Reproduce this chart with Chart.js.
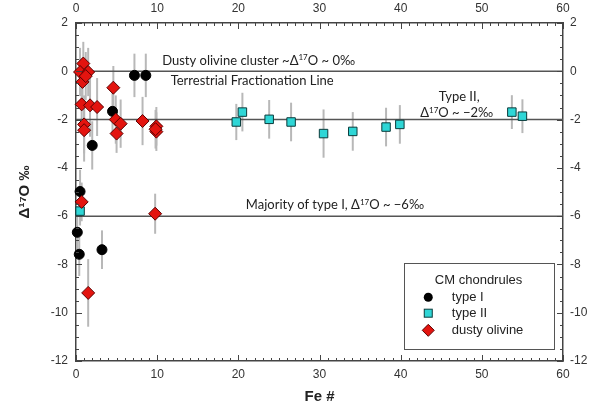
<!DOCTYPE html>
<html>
<head>
<meta charset="utf-8">
<script src="https://cdn.jsdelivr.net/npm/chart.js@4.4.1/dist/chart.umd.min.js"></script>
<style>
  html, body { margin: 0; padding: 0; background: #fff; }
</style>
</head>
<body>
<canvas id="chart" width="596" height="413"></canvas>
<script>
// values: Fe#, Δ17O (‰) and error half-width
const typeIFe = [7.2, 8.6, 4.5, 2.0, 0.5, 0.16, 0.4, 3.2];
const typeID17O = [-0.17, -0.17, -1.66, -3.07, -4.98, -6.67, -7.58, -7.39];
const typeIErr = [0.9, 0.9, 1.0, 1.0, 0.9, 0.9, 0.9, 0.8];

const typeIIFe = [19.75, 20.5, 23.8, 26.5, 30.5, 34.1, 38.2, 39.9, 53.7, 55.0, 0.5];
const typeIID17O = [-2.1, -1.69, -1.99, -2.1, -2.58, -2.49, -2.31, -2.2, -1.69, -1.86, -5.79];
const typeIIErr = [0.75, 0.8, 0.8, 0.8, 1.0, 0.8, 0.8, 0.8, 0.7, 0.7, 0.6];

const dustyFe = [0.9, 0.5, 1.5, 0.8, 1.2, 4.6, 0.7, 1.73, 2.6, 1.0, 1.0, 4.9, 5.5, 5.0, 8.2, 9.9, 9.9, 9.8, 0.7, 9.75, 1.5];
const dustyD17O = [0.32, -0.03, -0.03, -0.44, -0.2, -0.68, -1.37, -1.41, -1.48, -2.2, -2.44, -2.0, -2.17, -2.58, -2.06, -2.28, -2.5, -2.4, -5.41, -5.9, -9.18];
const dustyErr = [0.9, 1.0, 1.0, 1.0, 1.0, 0.9, 1.2, 1.3, 1.2, 1.2, 1.3, 1.0, 1.0, 0.8, 1.0, 0.8, 0.8, 0.8, 0.8, 0.83, 1.4];

const refLines = [0, -2, -6];
const xTicks = [0, 10, 20, 30, 40, 50, 60];
const yTicks = [2, 0, -2, -4, -6, -8, -10, -12];

const legendLabels = ["type I", "type II", "dusty olivine"];

const toPoints = (xs, ys) => xs.map((v, i) => ({ x: v, y: ys[i] }));

const TEXT_FONT = "Lato";
const AXIS_FONT = "'Liberation Sans', Arial, sans-serif";

// draws a line of text with "sup" parts raised and smaller, centred on cx
function richText(ctx, parts, cx, cy, size, align) {
  const supSize = size * 0.62;
  let w = 0;
  parts.forEach(p => {
    ctx.font = (p.sup ? supSize : size) + "px " + TEXT_FONT;
    p.w = ctx.measureText(p.t).width;
    w += p.w;
  });
  let x = align === "left" ? cx : cx - w / 2;
  ctx.textAlign = "left";
  ctx.textBaseline = "alphabetic";
  parts.forEach(p => {
    ctx.font = (p.sup ? supSize : size) + "px " + TEXT_FONT;
    ctx.fillText(p.t, x, cy + size * 0.36 - (p.sup ? size * 0.38 : 0));
    x += p.w;
  });
}

const errorBars = {
  id: "errorBars",
  beforeDatasetsDraw(chart) {
    const { ctx, scales: { x, y } } = chart;
    ctx.save();
    ctx.strokeStyle = "#b8b8b8";
    ctx.lineWidth = 2;
    [[typeIFe, typeID17O, typeIErr], [typeIIFe, typeIID17O, typeIIErr], [dustyFe, dustyD17O, dustyErr]]
      .forEach(([xs, ys, es]) => {
        xs.forEach((v, i) => {
          const px = x.getPixelForValue(v);
          ctx.beginPath();
          ctx.moveTo(px, y.getPixelForValue(ys[i] + es[i]));
          ctx.lineTo(px, y.getPixelForValue(ys[i] - es[i]));
          ctx.stroke();
        });
      });
    ctx.restore();
  }
};

const frameTicks = {
  id: "frameTicks",
  afterDatasetsDraw(chart) {
    const { ctx, chartArea: a, scales: { x, y } } = chart;
    ctx.save();
    ctx.strokeStyle = "#444";
    ctx.lineWidth = 1;
    const seg = (x1, y1, x2, y2) => {
      ctx.beginPath(); ctx.moveTo(x1, y1); ctx.lineTo(x2, y2); ctx.stroke();
    };
    for (let v = 0; v <= 60; v += 1) {
      const len = v % 10 === 0 ? 6 : 3;
      const px = Math.round(x.getPixelForValue(v)) + 0.5;
      seg(px, a.bottom, px, a.bottom - len);
      seg(px, a.top, px, a.top + len);
    }
    for (let v = -12; v <= 2; v += 0.5) {
      const len = v % 2 === 0 ? 6 : 3;
      const py = Math.round(y.getPixelForValue(v)) + 0.5;
      seg(a.left, py, a.left + len, py);
      seg(a.right, py, a.right - len, py);
    }
    ctx.restore();
  }
};

const notes = {
  id: "notes",
  afterDatasetsDraw(chart) {
    const { ctx, scales: { x, y } } = chart;
    ctx.save();
    ctx.fillStyle = "#222";
    const at = (fx, fy) => [x.getPixelForValue(fx), y.getPixelForValue(fy)];
    let p;
    p = at(22.5, 0.47);
    richText(ctx, [{ t: "Dusty olivine cluster ~\u0394" }, { t: "17", sup: true }, { t: "O ~ 0\u2030" }], p[0], p[1], 13);
    p = at(21.7, -0.38);
    richText(ctx, [{ t: "Terrestrial Fractionation Line" }], p[0], p[1], 13);
    p = at(47.2, -1.05);
    richText(ctx, [{ t: "Type II," }], p[0], p[1], 13);
    p = at(46.9, -1.72);
    richText(ctx, [{ t: "\u0394" }, { t: "17", sup: true }, { t: "O ~ \u22122\u2030" }], p[0], p[1], 13);
    p = at(31.9, -5.53);
    richText(ctx, [{ t: "Majority of type I, \u0394" }, { t: "17", sup: true }, { t: "O ~ \u22126\u2030" }], p[0], p[1], 13);
    ctx.restore();
  }
};

const boxLegend = {
  id: "boxLegend",
  afterDraw(chart) {
    const { ctx, scales: { x, y } } = chart;
    ctx.save();
    const l = x.getPixelForValue(40.4), r = x.getPixelForValue(58.9);
    const t = y.getPixelForValue(-7.95), b = y.getPixelForValue(-11.52);
    ctx.fillStyle = "#fff";
    ctx.fillRect(l, t, r - l, b - t);
    ctx.strokeStyle = "#555";
    ctx.lineWidth = 1;
    ctx.strokeRect(Math.round(l) + 0.5, Math.round(t) + 0.5, Math.round(r - l), Math.round(b - t));

    ctx.fillStyle = "#222";
    ctx.font = "13px " + AXIS_FONT;
    ctx.textAlign = "center";
    ctx.textBaseline = "middle";
    ctx.fillText("CM chondrules", x.getPixelForValue(49.6), y.getPixelForValue(-8.66));

    const mx = x.getPixelForValue(43.4), tx = x.getPixelForValue(46.3);
    const rows = [-9.36, -10.02, -10.73].map(v => y.getPixelForValue(v));
    ctx.lineWidth = 1;
    // type I circle
    ctx.beginPath(); ctx.arc(mx, rows[0], 4.5, 0, Math.PI * 2);
    ctx.fillStyle = "#000"; ctx.fill();
    // type II square
    ctx.fillStyle = "#2fd6d6"; ctx.strokeStyle = "#0b3b3b";
    ctx.fillRect(mx - 4, rows[1] - 4, 8, 8); ctx.strokeRect(mx - 4, rows[1] - 4, 8, 8);
    // dusty olivine diamond
    ctx.beginPath();
    ctx.moveTo(mx, rows[2] - 6); ctx.lineTo(mx + 6, rows[2]); ctx.lineTo(mx, rows[2] + 6); ctx.lineTo(mx - 6, rows[2]);
    ctx.closePath();
    ctx.fillStyle = "#e3140f"; ctx.strokeStyle = "#5a0000"; ctx.fill(); ctx.stroke();

    ctx.fillStyle = "#222";
    ctx.textAlign = "left";
    legendLabels.forEach((s, i) => ctx.fillText(s, tx, rows[i]));
    ctx.restore();
  }
};

const tickOpts = (vals, pad) => ({
  font: { family: AXIS_FONT, size: 12 },
  color: "#333",
  padding: pad,
  autoSkip: false,
  maxRotation: 0
});

const setTicks = vals => scale => { scale.ticks = vals.map(v => ({ value: v })); };
const frame = { display: true, color: "#444", width: 1.5 };

new Chart(document.getElementById("chart"), {
  type: "scatter",
  data: {
    datasets: [
      {
        label: legendLabels[2],
        data: toPoints(dustyFe, dustyD17O),
        pointStyle: "rectRot",
        pointRadius: 6.5,
        pointHoverRadius: 6.5,
        backgroundColor: "#e3140f",
        borderColor: "#5a0000",
        borderWidth: 1,
        clip: false
      },
      {
        label: legendLabels[1],
        data: toPoints(typeIIFe, typeIID17O),
        pointStyle: "rect",
        pointRadius: 6,
        pointHoverRadius: 6,
        backgroundColor: "#2fd6d6",
        borderColor: "#0b3b3b",
        borderWidth: 1,
        clip: false
      },
      {
        label: legendLabels[0],
        data: toPoints(typeIFe, typeID17O),
        pointStyle: "circle",
        pointRadius: 5,
        pointHoverRadius: 5,
        backgroundColor: "#000",
        borderColor: "#000",
        borderWidth: 1,
        clip: false
      },
      ...refLines.map(v => ({
        type: "line",
        label: "ref " + v,
        data: [{ x: 0, y: v }, { x: 60, y: v }],
        borderColor: "#555",
        borderWidth: 1.5,
        pointRadius: 0,
        fill: false
      }))
    ]
  },
  options: {
    responsive: false,
    animation: false,
    events: [],
    layout: { padding: 0 },
    plugins: { legend: { display: false }, tooltip: { enabled: false } },
    scales: {
      x: {
        type: "linear", position: "bottom", min: 0, max: 60,
        afterBuildTicks: setTicks(xTicks),
        afterFit: s => { s.height = 52; },
        ticks: tickOpts(xTicks, 6),
        grid: { display: false, drawTicks: false },
        border: frame,
        title: { display: true, text: "Fe #", color: "#222", font: { family: AXIS_FONT, size: 15, weight: "bold" }, padding: { top: 0, bottom: 7 } }
      },
      x2: {
        type: "linear", position: "top", min: 0, max: 60,
        afterBuildTicks: setTicks(xTicks),
        afterFit: s => { s.height = 23; },
        ticks: tickOpts(xTicks, 7),
        grid: { display: false, drawTicks: false },
        border: frame
      },
      y: {
        type: "linear", position: "left", min: -12, max: 2,
        afterBuildTicks: setTicks(yTicks),
        afterFit: s => { s.width = 76; },
        ticks: tickOpts(yTicks, 8),
        grid: { display: false, drawTicks: false },
        border: frame,
        title: { display: true, text: "\u0394\u00b9\u2077O \u2030", color: "#222", font: { family: AXIS_FONT, size: 15, weight: "bold" }, padding: { top: 16, bottom: 0 } }
      },
      y2: {
        type: "linear", position: "right", min: -12, max: 2,
        afterBuildTicks: setTicks(yTicks),
        afterFit: s => { s.width = 33; },
        ticks: tickOpts(yTicks, 7),
        grid: { display: false, drawTicks: false },
        border: frame
      }
    }
  },
  plugins: [errorBars, frameTicks, notes, boxLegend]
});
</script>
</body>
</html>
